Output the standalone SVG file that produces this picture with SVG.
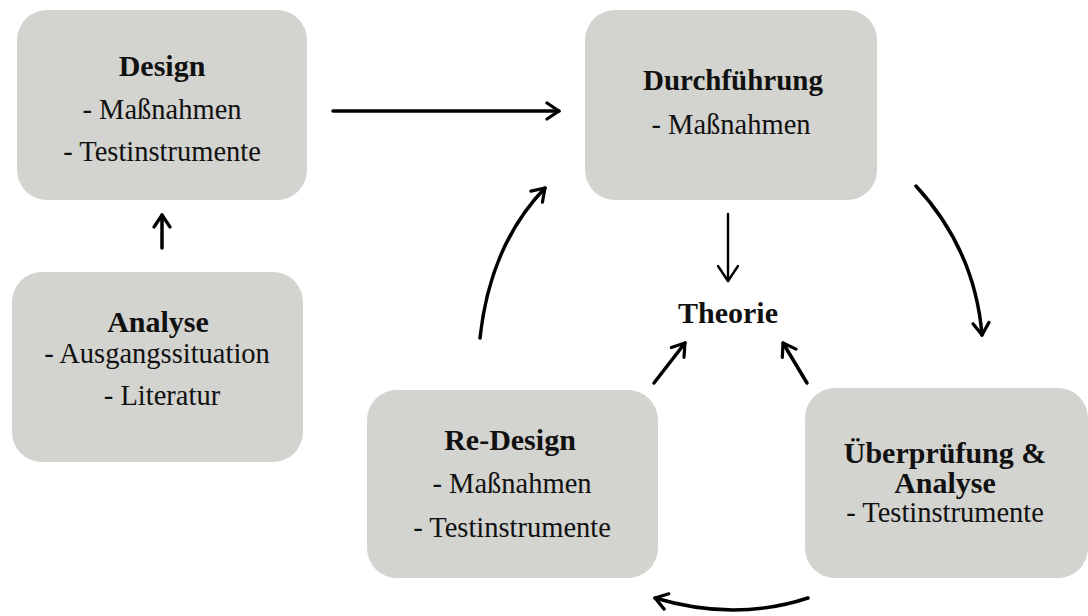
<svg xmlns="http://www.w3.org/2000/svg" width="1088" height="616" viewBox="0 0 1088 616">
<style>
.box{fill:#d3d3cf}
.t{font-family:"Liberation Serif","Times New Roman",serif;fill:#111;text-anchor:middle}
.h{font-size:30px;font-weight:bold}
.b{font-size:28.5px}
.c{fill:none;stroke:#000;stroke-width:3.5;stroke-linecap:round}
</style>
<defs>
<marker id="ah" viewBox="0 0 22 22" refX="19" refY="11" markerWidth="22" markerHeight="22" markerUnits="userSpaceOnUse" orient="auto">
<path d="M4,1 L19,11 L4,21" fill="none" stroke="#000" stroke-width="2.4" stroke-linecap="round" stroke-linejoin="round"/>
</marker>
<marker id="ah2" viewBox="0 0 20 20" refX="17" refY="10" markerWidth="20" markerHeight="20" markerUnits="userSpaceOnUse" orient="auto">
<path d="M5,2 L17,10 L5,18" fill="none" stroke="#000" stroke-width="3.2" stroke-linecap="round" stroke-linejoin="round"/>
</marker>
</defs>
<rect width="1088" height="616" fill="#fff"/>
<g id="design">
<rect class="box" x="17" y="10" width="290" height="190" rx="30"/>
<text class="t h" x="162" y="76">Design</text>
<text class="t b" x="162" y="119">- Maßnahmen</text>
<text class="t b" x="162" y="161">- Testinstrumente</text>
</g>
<g id="durchfuehrung">
<rect class="box" x="585" y="10" width="292" height="190" rx="30"/>
<text class="t h" x="733" y="90" style="font-size:29px">Durchführung</text>
<text class="t b" x="731" y="134">- Maßnahmen</text>
</g>
<g id="analyse">
<rect class="box" x="12" y="272" width="291" height="190" rx="30"/>
<text class="t h" x="158" y="332">Analyse</text>
<text class="t b" x="157" y="363">- Ausgangssituation</text>
<text class="t b" x="162" y="405">- Literatur</text>
</g>
<g id="redesign">
<rect class="box" x="367" y="390" width="291" height="188" rx="30"/>
<text class="t h" x="510" y="450">Re-Design</text>
<text class="t b" x="512" y="493">- Maßnahmen</text>
<text class="t b" x="512" y="537">- Testinstrumente</text>
</g>
<g id="ueberpruefung">
<rect class="box" x="805" y="388" width="283" height="190" rx="30"/>
<text class="t h"><tspan x="945" y="463">Überprüfung &amp;</tspan><tspan x="945" y="493">Analyse</tspan></text>
<text class="t b" x="945" y="522">- Testinstrumente</text>
</g>
<g id="theorie">
<text class="t h" x="728" y="323">Theorie</text>
</g>
<g id="connectors">
<path class="c" d="M333 111 L559 111" marker-end="url(#ah2)"/>
<path class="c" d="M162 248 L162 215" marker-end="url(#ah2)"/>
<path class="c" d="M480 338 Q490 245 545 188" marker-end="url(#ah2)"/>
<path class="c" d="M728 214 L728 281" style="stroke-width:2.4" marker-end="url(#ah)"/>
<path class="c" d="M916 186 Q975 250 982 335" marker-end="url(#ah2)"/>
<path class="c" d="M808 598 Q735 622 655 598" marker-end="url(#ah2)"/>
<path class="c" d="M654 383 L685 343" marker-end="url(#ah2)"/>
<path class="c" d="M807 383 L783 343" marker-end="url(#ah2)"/>
</g>
</svg>
